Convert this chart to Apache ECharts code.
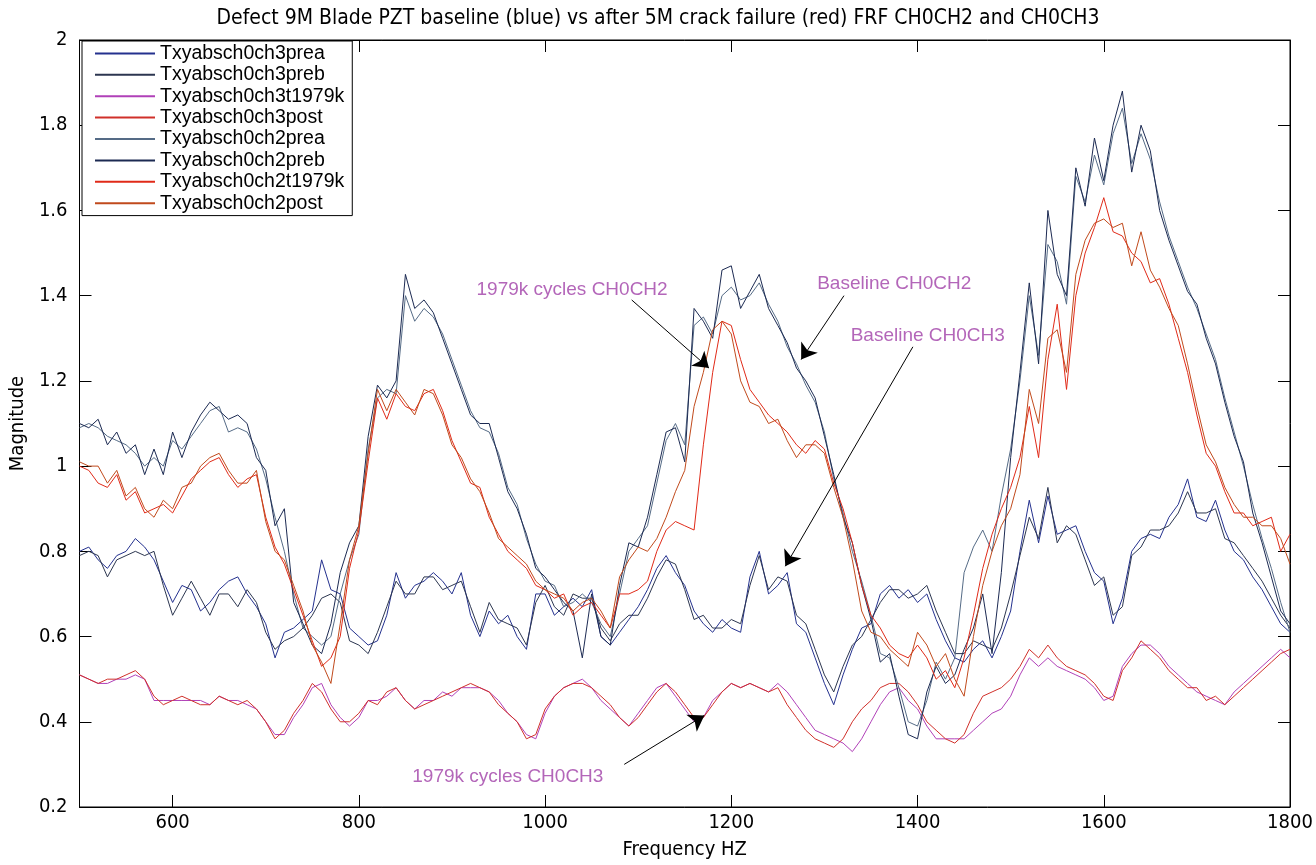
<!DOCTYPE html>
<html><head><meta charset="utf-8">
<script src="https://cdn.jsdelivr.net/npm/echarts@6/dist/echarts.min.js"></script>
<style>html,body{margin:0;padding:0;background:#fff}#c{width:1316px;height:865px}</style>
</head><body><div id="c"></div>
<script>
const freq = [500,510,520,530,540,550,560,570,580,590,600,610,620,630,640,650,660,670,680,690,700,710,720,730,740,750,760,770,780,790,800,810,820,830,840,850,860,870,880,890,900,910,920,930,940,950,960,970,980,990,1000,1010,1020,1030,1040,1050,1060,1070,1080,1090,1100,1110,1120,1130,1140,1150,1160,1170,1180,1190,1200,1210,1220,1230,1240,1250,1260,1270,1280,1290,1300,1310,1320,1330,1340,1350,1360,1370,1380,1390,1400,1410,1420,1430,1440,1450,1460,1470,1480,1490,1500,1510,1520,1530,1540,1550,1560,1570,1580,1590,1600,1610,1620,1630,1640,1650,1660,1670,1680,1690,1700,1710,1720,1730,1740,1750,1760,1770,1780,1790,1800];

const ch3prea = [0.80,0.81,0.78,0.76,0.79,0.80,0.83,0.81,0.78,0.73,
 0.68,0.72,0.71,0.66,0.68,0.71,0.73,0.74,0.70,0.67,
 0.63,0.55,0.61,0.62,0.64,0.66,0.78,0.71,0.70,0.62,
 0.60,0.58,0.59,0.65,0.75,0.69,0.72,0.73,0.75,0.73,
 0.70,0.75,0.65,0.60,0.66,0.63,0.65,0.60,0.57,0.70,
 0.70,0.65,0.67,0.69,0.67,0.71,0.60,0.58,0.61,0.64,
 0.67,0.71,0.76,0.79,0.75,0.72,0.66,0.63,0.61,0.64,
 0.62,0.61,0.74,0.80,0.70,0.72,0.75,0.63,0.61,0.55,
 0.49,0.44,0.51,0.57,0.62,0.63,0.70,0.72,0.69,0.71,
 0.68,0.70,0.64,0.59,0.55,0.54,0.57,0.59,0.55,0.60,
 0.66,0.80,0.92,0.82,0.93,0.84,0.85,0.86,0.80,0.75,
 0.73,0.63,0.69,0.80,0.83,0.84,0.83,0.88,0.91,0.97,
 0.88,0.87,0.92,0.85,0.80,0.78,0.74,0.71,0.67,0.63,
 0.61];
const ch3preb = [0.79,0.80,0.79,0.74,0.78,0.79,0.80,0.79,0.80,0.72,
 0.65,0.69,0.73,0.69,0.65,0.70,0.70,0.67,0.71,0.68,
 0.61,0.57,0.59,0.60,0.62,0.65,0.69,0.70,0.68,0.59,
 0.58,0.56,0.61,0.67,0.73,0.70,0.70,0.74,0.74,0.71,
 0.72,0.73,0.67,0.61,0.68,0.64,0.63,0.62,0.58,0.68,
 0.72,0.67,0.65,0.70,0.69,0.69,0.62,0.59,0.63,0.65,
 0.65,0.69,0.74,0.78,0.77,0.71,0.64,0.65,0.62,0.62,
 0.64,0.63,0.72,0.79,0.71,0.74,0.73,0.65,0.63,0.57,
 0.51,0.47,0.53,0.58,0.60,0.64,0.68,0.71,0.71,0.69,
 0.70,0.72,0.66,0.61,0.56,0.56,0.59,0.58,0.57,0.62,
 0.70,0.79,0.88,0.83,0.95,0.82,0.86,0.84,0.78,0.72,
 0.74,0.65,0.67,0.79,0.81,0.85,0.85,0.86,0.89,0.94,
 0.89,0.89,0.90,0.83,0.82,0.79,0.76,0.73,0.69,0.65,
 0.62];
const ch3t1979k = [0.51,0.50,0.49,0.49,0.50,0.50,0.51,0.50,0.45,0.45,
 0.45,0.45,0.45,0.45,0.44,0.46,0.45,0.45,0.44,0.43,
 0.40,0.37,0.37,0.41,0.44,0.48,0.49,0.44,0.41,0.39,
 0.41,0.45,0.45,0.46,0.48,0.45,0.43,0.45,0.45,0.47,
 0.46,0.48,0.48,0.48,0.47,0.45,0.42,0.40,0.37,0.36,
 0.42,0.46,0.48,0.49,0.50,0.48,0.45,0.43,0.41,0.39,
 0.42,0.45,0.48,0.49,0.46,0.43,0.40,0.41,0.45,0.47,
 0.49,0.48,0.49,0.48,0.47,0.49,0.47,0.44,0.41,0.38,
 0.37,0.36,0.35,0.33,0.36,0.40,0.44,0.47,0.48,0.45,
 0.43,0.39,0.36,0.36,0.36,0.36,0.38,0.40,0.42,0.43,
 0.46,0.51,0.55,0.53,0.55,0.53,0.52,0.51,0.50,0.48,
 0.45,0.46,0.53,0.56,0.58,0.58,0.56,0.53,0.51,0.49,
 0.47,0.46,0.45,0.44,0.47,0.49,0.51,0.53,0.55,0.57,
 0.55];
const ch3post = [0.51,0.50,0.49,0.50,0.50,0.51,0.52,0.50,0.46,0.44,
 0.45,0.46,0.45,0.44,0.44,0.46,0.45,0.44,0.45,0.43,
 0.40,0.36,0.38,0.42,0.45,0.49,0.47,0.43,0.40,0.40,
 0.42,0.45,0.44,0.47,0.48,0.45,0.43,0.44,0.45,0.46,
 0.47,0.48,0.49,0.48,0.47,0.44,0.42,0.40,0.36,0.37,
 0.43,0.46,0.48,0.49,0.49,0.48,0.46,0.44,0.41,0.39,
 0.41,0.44,0.47,0.49,0.47,0.44,0.41,0.41,0.44,0.47,
 0.49,0.48,0.49,0.48,0.47,0.48,0.44,0.41,0.38,0.36,
 0.35,0.34,0.36,0.40,0.43,0.45,0.48,0.49,0.49,0.47,
 0.44,0.40,0.38,0.36,0.35,0.37,0.42,0.46,0.47,0.48,
 0.50,0.53,0.57,0.55,0.58,0.55,0.53,0.52,0.51,0.49,
 0.46,0.45,0.52,0.55,0.59,0.57,0.55,0.52,0.50,0.48,
 0.48,0.45,0.46,0.44,0.46,0.48,0.50,0.52,0.54,0.56,
 0.57];
const ch2prea = [1.09,1.10,1.09,1.07,1.06,1.05,1.03,1.00,1.02,1.00,
 1.06,1.04,1.07,1.10,1.13,1.14,1.08,1.09,1.08,1.04,
 0.97,0.88,0.80,0.70,0.62,0.60,0.58,0.60,0.70,0.78,
 0.84,1.04,1.16,1.18,1.17,1.40,1.34,1.37,1.35,1.31,
 1.25,1.19,1.13,1.09,1.08,1.03,0.95,0.91,0.83,0.77,
 0.73,0.72,0.67,0.68,0.70,0.68,0.63,0.60,0.70,0.80,
 0.83,0.86,0.96,1.06,1.10,1.05,1.33,1.35,1.31,1.40,
 1.42,1.39,1.40,1.43,1.38,1.34,1.28,1.24,1.19,1.15,
 1.08,0.97,0.89,0.80,0.73,0.65,0.56,0.55,0.48,0.40,
 0.39,0.45,0.54,0.50,0.55,0.75,0.81,0.85,0.80,0.93,
 1.04,1.20,1.40,1.26,1.52,1.48,1.38,1.68,1.62,1.73,
 1.66,1.78,1.84,1.71,1.78,1.72,1.62,1.54,1.48,1.42,
 1.37,1.31,1.25,1.16,1.08,1.00,0.91,0.83,0.76,0.68,
 0.61];
const ch2preb = [1.10,1.09,1.11,1.05,1.08,1.03,1.05,0.98,1.04,0.98,
 1.08,1.02,1.08,1.12,1.15,1.13,1.11,1.12,1.10,1.02,
 0.99,0.86,0.90,0.68,0.63,0.58,0.56,0.63,0.75,0.82,
 0.86,1.07,1.19,1.16,1.20,1.45,1.37,1.39,1.36,1.30,
 1.24,1.18,1.12,1.10,1.10,1.02,0.94,0.90,0.84,0.76,
 0.74,0.71,0.68,0.66,0.55,0.70,0.60,0.58,0.72,0.82,
 0.81,0.88,0.98,1.08,1.09,1.01,1.37,1.34,1.30,1.46,
 1.47,1.37,1.41,1.45,1.37,1.33,1.29,1.23,1.20,1.16,
 1.07,0.98,0.88,0.82,0.72,0.64,0.54,0.56,0.46,0.37,
 0.36,0.47,0.53,0.49,0.51,0.57,0.62,0.70,0.56,0.75,
 1.02,1.22,1.43,1.24,1.60,1.45,1.40,1.70,1.61,1.77,
 1.67,1.80,1.88,1.69,1.80,1.74,1.60,1.53,1.47,1.41,
 1.38,1.30,1.24,1.15,1.07,1.01,0.89,0.82,0.74,0.66,
 0.63];
const ch2t1979k = [1.00,0.99,0.96,0.95,0.98,0.92,0.94,0.89,0.90,0.91,
 0.89,0.93,0.97,0.99,1.01,1.02,0.98,0.95,0.97,0.98,
 0.88,0.81,0.77,0.71,0.65,0.59,0.53,0.55,0.60,0.76,
 0.85,1.01,1.16,1.11,1.17,1.14,1.13,1.17,1.18,1.13,
 1.06,1.01,0.96,0.95,0.88,0.84,0.80,0.78,0.76,0.72,
 0.71,0.69,0.70,0.65,0.67,0.68,0.65,0.62,0.70,0.70,
 0.71,0.73,0.80,0.85,0.87,0.86,0.85,1.05,1.22,1.34,
 1.33,1.25,1.18,1.15,1.12,1.10,1.08,1.05,1.03,1.06,
 1.04,0.96,0.90,0.82,0.72,0.65,0.62,0.58,0.56,0.55,
 0.58,0.55,0.50,0.52,0.48,0.55,0.65,0.76,0.84,0.90,
 0.95,1.02,1.14,1.02,1.25,1.38,1.18,1.40,1.50,1.56,
 1.63,1.55,1.54,1.50,1.48,1.43,1.44,1.38,1.30,1.22,
 1.12,1.03,1.00,0.94,0.89,0.89,0.86,0.87,0.88,0.80,
 0.84];
const ch2post = [1.01,1.00,1.00,0.96,0.99,0.93,0.95,0.90,0.88,0.92,
 0.90,0.95,0.96,1.00,1.02,1.03,0.99,0.96,0.96,0.99,
 0.87,0.80,0.78,0.72,0.66,0.58,0.54,0.49,0.63,0.78,
 0.86,1.03,1.18,1.13,1.18,1.15,1.12,1.18,1.17,1.12,
 1.05,1.02,0.97,0.94,0.89,0.83,0.81,0.79,0.77,0.73,
 0.71,0.70,0.69,0.66,0.68,0.69,0.66,0.62,0.74,0.78,
 0.81,0.80,0.83,0.88,0.94,0.99,1.14,1.22,1.32,1.34,
 1.31,1.20,1.15,1.14,1.10,1.11,1.06,1.02,1.05,1.05,
 1.03,0.95,0.88,0.78,0.66,0.61,0.60,0.57,0.55,0.53,
 0.61,0.58,0.53,0.56,0.50,0.46,0.60,0.72,0.80,0.86,
 0.90,0.98,1.18,1.10,1.30,1.32,1.22,1.45,1.53,1.57,
 1.58,1.56,1.57,1.47,1.55,1.46,1.42,1.37,1.33,1.24,
 1.14,1.05,1.01,0.95,0.91,0.88,0.88,0.86,0.86,0.83,
 0.77];

const seriesNames = ['Txyabsch0ch3prea','Txyabsch0ch3preb','Txyabsch0ch3t1979k','Txyabsch0ch3post',
  'Txyabsch0ch2prea','Txyabsch0ch2preb','Txyabsch0ch2t1979k','Txyabsch0ch2post'];
const seriesValues = [ch3prea, ch3preb, ch3t1979k, ch3post, ch2prea, ch2preb, ch2t1979k, ch2post];
const seriesColors = ['#24318e','#2c3650','#b040b8','#d0302a','#556b86','#1c2a52','#e02a18','#c04a1c'];

const xTicks = [600,800,1000,1200,1400,1600,1800];
const titleText = 'Defect 9M Blade PZT baseline (blue) vs after 5M crack failure (red) FRF CH0CH2 and CH0CH3';

const annoTexts = ['1979k cycles CH0CH2','Baseline CH0CH2','Baseline CH0CH3','1979k cycles CH0CH3'];
const annoAt = [[1029,1.415],[1375,1.428],[1411,1.305],[960,0.272]];
const arrowFrom = [[1093,1.39],[1321,1.40],[1395,1.28],[1085,0.30]];
const arrowTo = [[1176,1.23],[1275,1.25],[1258,0.765],[1171,0.415]];

const narrow = '"Liberation Sans Narrow","DejaVu Sans Condensed","Liberation Sans",sans-serif';
const sans = '"Liberation Sans",Arial,sans-serif';

const chart = echarts.init(document.getElementById('c'), null, {renderer:'canvas'});

const lineSeries = seriesNames.map((n,i)=>({
  name:n, type:'line', showSymbol:false, symbol:'none', animation:false,
  data: freq.map((f,j)=>[f, seriesValues[i][j]]),
  lineStyle:{color:seriesColors[i], width:1},
  itemStyle:{color:seriesColors[i]},
  emphasis:{disabled:true}, silent:true
}));

const annoSeries = {
  name:'annotations', type:'scatter', symbolSize:0, animation:false, silent:true, z:10,
  data: annoAt.map((p,i)=>({value:p, name:annoTexts[i]})),
  label:{show:true, position:'inside', formatter:p=>p.name, color:'#a040a8', fontSize:19, fontFamily:sans},
  markLine:{
    silent:true, animation:false, symbol:['none','arrow'], symbolSize:15,
    label:{show:false}, emphasis:{disabled:true},
    lineStyle:{color:'#000', width:1, type:'solid'},
    itemStyle:{color:'#000'},
    data: arrowFrom.map((a,i)=>[{coord:a},{coord:arrowTo[i]}])
  }
};

const axisTxt = {color:'#000', fontSize:20, fontFamily:narrow};

chart.setOption({
  backgroundColor:'#fff',
  animation:false,
  title:{text:titleText, left:'center', top:3, textStyle:{fontSize:21, fontWeight:'normal', color:'#000', fontFamily:narrow}},
  grid:{left:76, right:26, top:40, bottom:45, show:true, borderColor:'#000', borderWidth:1, backgroundColor:'#fff'},
  legend:{
    data:seriesNames, orient:'vertical', left:82, top:41,
    backgroundColor:'#fff', borderColor:'#000', borderWidth:1,
    padding:[2,8,2,13], itemGap:0.6, itemWidth:60, itemHeight:2, icon:'rect',
    textStyle:{color:'#000', fontSize:19.5, fontFamily:sans, lineHeight:20.8},
    selectedMode:false
  },
  xAxis:[{
    type:'value', min:500, max:1800, position:'bottom',
    name:'Frequency HZ', nameLocation:'middle', nameGap:33, nameTextStyle:axisTxt,
    axisLine:{show:true, lineStyle:{color:'#000'}},
    axisTick:{show:true, inside:true, length:12, customValues:xTicks, lineStyle:{color:'#000'}},
    axisLabel:{customValues:xTicks, margin:6, formatter:v=>String(v), ...axisTxt},
    splitLine:{show:false}
  },{
    type:'value', min:500, max:1800, position:'top',
    axisLine:{show:true, lineStyle:{color:'#000'}},
    axisTick:{show:true, inside:true, length:12, customValues:xTicks, lineStyle:{color:'#000'}},
    axisLabel:{show:false}, splitLine:{show:false}
  }],
  yAxis:[{
    type:'value', min:0.2, max:2, interval:0.2, position:'left',
    name:'Magnitude', nameLocation:'middle', nameGap:50, nameRotate:90, nameTextStyle:axisTxt,
    axisLine:{show:true, lineStyle:{color:'#000'}},
    axisTick:{show:true, inside:true, length:12, lineStyle:{color:'#000'}},
    axisLabel:{margin:12, formatter:v=>String(+v.toFixed(1)), ...axisTxt},
    splitLine:{show:false}
  },{
    type:'value', min:0.2, max:2, interval:0.2, position:'right',
    axisLine:{show:true, lineStyle:{color:'#000'}},
    axisTick:{show:true, inside:true, length:12, lineStyle:{color:'#000'}},
    axisLabel:{show:false}, splitLine:{show:false}
  }],
  series:[...lineSeries, annoSeries]
});
</script></body></html>
